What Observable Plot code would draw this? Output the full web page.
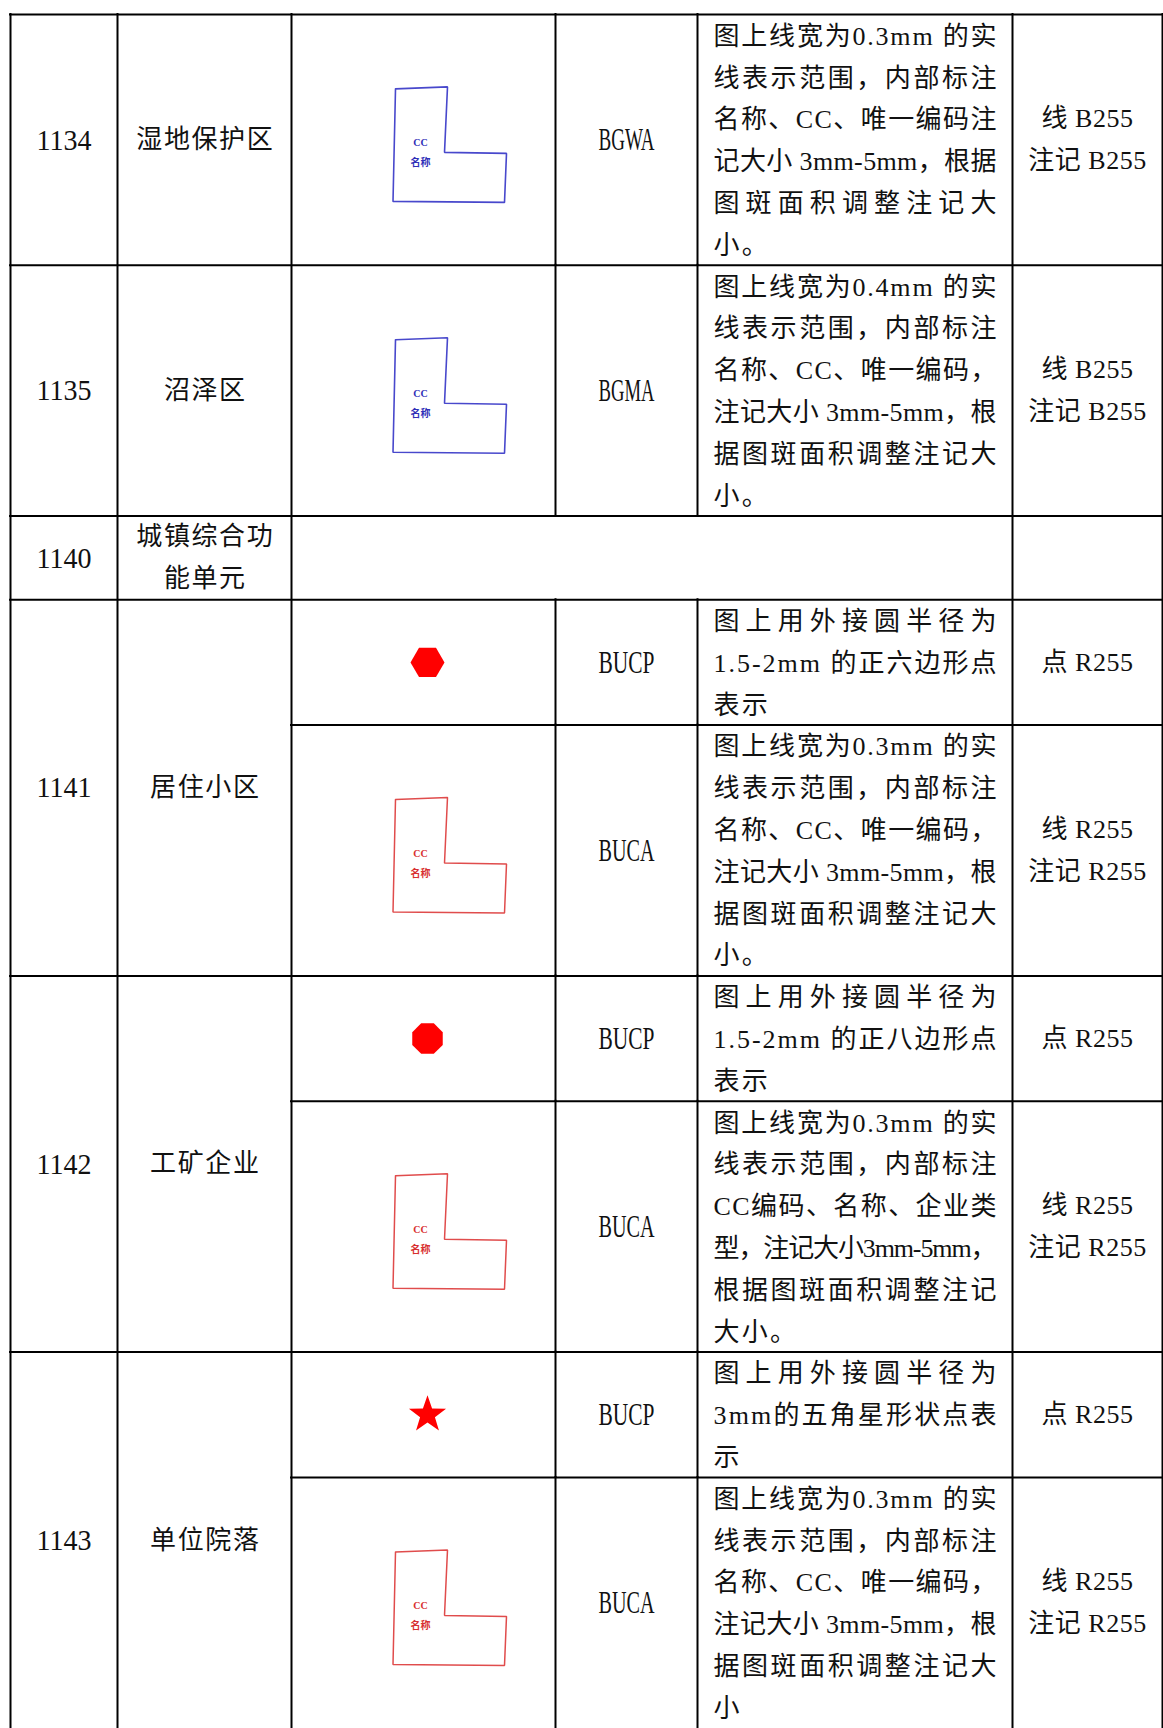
<!DOCTYPE html>
<html>
<head>
<meta charset="utf-8">
<script src="https://cdn.jsdelivr.net/npm/d3@7"></script>
<script src="https://cdn.jsdelivr.net/npm/@observablehq/plot@0.6"></script>
<style>
  body { margin: 0; background: #fff; }
  #chart svg { display: block; }
</style>
</head>
<body>
<div id="chart"></div>
<script>
// ---------------- data ----------------
const rowIds = ["1134", "1135", "1140", "1141", "1142", "1143"];
const rowNames = [["湿地保护区"], ["沼泽区"], ["城镇综合功", "能单元"], ["居住小区"], ["工矿企业"], ["单位院落"]];

// each sub-row belongs to a row (index into rowIds)
const subRowOf = [0, 1, 2, 3, 3, 4, 4, 5, 5];
const subSymbols = ["blueL", "blueL", null, "hexagon", "redL", "octagon", "redL", "star", "redL"];
const subCodes = ["BGWA", "BGMA", null, "BUCP", "BUCA", "BUCP", "BUCA", "BUCP", "BUCA"];
const subDescriptions = [
  ["图上线宽为0.3mm 的实", "线表示范围，内部标注", "名称、CC、唯一编码注", "记大小 3mm-5mm，根据", "图斑面积调整注记大", "小。"],
  ["图上线宽为0.4mm 的实", "线表示范围，内部标注", "名称、CC、唯一编码，", "注记大小 3mm-5mm，根", "据图斑面积调整注记大", "小。"],
  [],
  ["图上用外接圆半径为", "1.5-2mm 的正六边形点", "表示"],
  ["图上线宽为0.3mm 的实", "线表示范围，内部标注", "名称、CC、唯一编码，", "注记大小 3mm-5mm，根", "据图斑面积调整注记大", "小。"],
  ["图上用外接圆半径为", "1.5-2mm 的正八边形点", "表示"],
  ["图上线宽为0.3mm 的实", "线表示范围，内部标注", "CC编码、名称、企业类", "型，注记大小3mm-5mm，", "根据图斑面积调整注记", "大小。"],
  ["图上用外接圆半径为", "3mm的五角星形状点表", "示"],
  ["图上线宽为0.3mm 的实", "线表示范围，内部标注", "名称、CC、唯一编码，", "注记大小 3mm-5mm，根", "据图斑面积调整注记大", "小"]
];
const subColours = [
  ["线 B255", "注记 B255"], ["线 B255", "注记 B255"], [],
  ["点 R255"], ["线 R255", "注记 R255"],
  ["点 R255"], ["线 R255", "注记 R255"],
  ["点 R255"], ["线 R255", "注记 R255"]
];
// outline of the L-shaped area symbol (vertex offsets)
const lOutline = [[0, 0], [52, -2], [49, 63.5], [111, 64.5], [109, 113.5], [-2.5, 112.5], [0, 0]];
const lLabels = ["CC", "名称"];

// ---------------- layout ----------------
const W = 1163, H = 1728;
const TOP = 14, LINE = 41.8;
const COLS = [10, 117, 291, 555, 697, 1012, 1162];
const FONT = "'Liberation Serif', 'Noto Sans CJK SC', serif";
const CJK = "'Noto Sans CJK SC', sans-serif";

const subN = subDescriptions.map((d, i) => d.length || rowNames[subRowOf[i]].length);
const subTop = [];
let acc = TOP;
subN.forEach((n, i) => { subTop.push(acc); acc += n * LINE; });
const subBottom = subTop.map((t, i) => t + subN[i] * LINE);
const subMid = subTop.map((t, i) => (t + subBottom[i]) / 2);
const rowTop = rowIds.map((_, r) => Math.min(...subTop.filter((_, i) => subRowOf[i] === r)));
const rowBottom = rowIds.map((_, r) => Math.max(...subBottom.filter((_, i) => subRowOf[i] === r)));
const rowMid = rowTop.map((t, r) => (t + rowBottom[r]) / 2);

// grid lines
const hLines = [{y: TOP, x1: COLS[0], x2: COLS[6]}];
subTop.forEach((t, i) => {
  if (i === 0) return;
  const newRow = subRowOf[i] !== subRowOf[i - 1];
  hLines.push({y: t, x1: newRow ? COLS[0] : COLS[2], x2: COLS[6]});
});
const vLines = [];
[0, 1, 2, 5, 6].forEach(c => vLines.push({x: COLS[c], y1: TOP, y2: H}));
subCodes.forEach((c, i) => {
  if (c === null) return;
  const y2 = i === subCodes.length - 1 ? H : subBottom[i];
  vLines.push({x: COLS[3], y1: subTop[i], y2});
  vLines.push({x: COLS[4], y1: subTop[i], y2});
});

// texts
const symX = (COLS[2] + COLS[3]) / 2;
const idText = rowIds.map((t, r) => ({text: t, x: (COLS[0] + COLS[1]) / 2, y: rowMid[r]}));
const nameText = [];
rowNames.forEach((lines, r) => lines.forEach((t, j) => nameText.push({text: t, x: (COLS[1] + COLS[2]) / 2, y: rowMid[r] + (j - (lines.length - 1) / 2) * 42})));
const codeText = [];
subCodes.forEach((c, i) => { if (c) codeText.push({text: c, x: (COLS[3] + COLS[4]) / 2, y: subMid[i]}); });
const descFull = [], descLast = [];
subDescriptions.forEach((lines, i) => lines.forEach((t, j) => {
  const d = {text: t, x: COLS[4] + 16, y: subTop[i] + 22 + j * LINE};
  (j === lines.length - 1 ? descLast : descFull).push(d);
}));
const colourText = [];
subColours.forEach((lines, i) => lines.forEach((t, j) => colourText.push({text: t, x: (COLS[5] + COLS[6]) / 2, y: subMid[i] + (j - (lines.length - 1) / 2) * 42})));

// L-shaped outlines
const lPts = {blueL: [], redL: []};
const lTxt = {blueL: [], redL: []};
subSymbols.forEach((s, i) => {
  if (s !== "blueL" && s !== "redL") return;
  const ox = symX - 28, oy = subMid[i] - 51;
  lOutline.forEach(([dx, dy]) => lPts[s].push({id: i, x: ox + dx, y: oy + dy}));
  lLabels.forEach((t, j) => lTxt[s].push({text: t, x: ox + 25, y: oy + 54 + j * 20}));
});

// point symbols
function polySymbol(n, rot) {
  return {draw(ctx, size) {
    const r = Math.sqrt(size / Math.PI);
    for (let k = 0; k < n; k++) {
      const a = rot + k * 2 * Math.PI / n;
      const px = r * Math.cos(a), py = r * Math.sin(a);
      k ? ctx.lineTo(px, py) : ctx.moveTo(px, py);
    }
    ctx.closePath();
  }};
}
const starSymbol = {draw(ctx, size) {
  const R = Math.sqrt(size / Math.PI), r = R * 0.4;
  for (let k = 0; k < 10; k++) {
    const a = -Math.PI / 2 + k * Math.PI / 5;
    const rr = k % 2 ? r : R;
    const px = rr * Math.cos(a), py = rr * Math.sin(a);
    k ? ctx.lineTo(px, py) : ctx.moveTo(px, py);
  }
  ctx.closePath();
}};
const pts = s => subSymbols.map((v, i) => v === s ? {x: symX + 4, y: subMid[i]} : null).filter(d => d);

const svg = Plot.plot({
  width: W,
  height: H,
  margin: 0,
  x: {type: "linear", domain: [0, W], range: [0, W], axis: null},
  y: {type: "linear", domain: [0, H], range: [0, H], axis: null},
  style: {background: "#fff"},
  marks: [
    Plot.ruleY(hLines, {y: "y", x1: "x1", x2: "x2", stroke: "#000", strokeWidth: 2, strokeLinecap: "square"}),
    Plot.ruleX(vLines, {x: "x", y1: "y1", y2: "y2", stroke: "#000", strokeWidth: 2, strokeLinecap: "square"}),
    Plot.line(lPts.blueL, {x: "x", y: "y", z: "id", stroke: "#4848cc", strokeWidth: 1.6, strokeLinejoin: "miter"}),
    Plot.line(lPts.redL, {x: "x", y: "y", z: "id", stroke: "#e04c4c", strokeWidth: 1.5, strokeLinejoin: "miter"}),
    Plot.text(lTxt.blueL, {x: "x", y: "y", text: "text", fill: "#3030b8", fontSize: 10, fontWeight: "bold", fontFamily: FONT}),
    Plot.text(lTxt.redL, {x: "x", y: "y", text: "text", fill: "#d83030", fontSize: 10, fontWeight: "bold", fontFamily: FONT}),
    Plot.dot(pts("hexagon"), {x: "x", y: "y", r: 17, symbol: polySymbol(6, 0), fill: "#ff0000"}),
    Plot.dot(pts("octagon"), {x: "x", y: "y", r: 16.5, symbol: polySymbol(8, Math.PI / 8), fill: "#ff0000"}),
    Plot.dot(pts("star"), {x: "x", y: "y", r: 19.5, symbol: starSymbol, fill: "#ff0000"}),
    Plot.text(idText, {x: "x", y: "y", text: "text", fontSize: 30, fontFamily: FONT, fill: "#111", ariaDescription: "id"}),
    Plot.text(nameText, {x: "x", y: "y", text: "text", fontSize: 26, fontFamily: CJK, fill: "#111", ariaDescription: "name"}),
    Plot.text(codeText, {x: "x", y: "y", text: "text", fontSize: 32, fontFamily: FONT, fill: "#111", ariaDescription: "code"}),
    Plot.text(descFull, {x: "x", y: "y", text: "text", fontSize: 26, fontFamily: FONT, fill: "#111", textAnchor: "start", ariaDescription: "desc-full"}),
    Plot.text(descLast, {x: "x", y: "y", text: "text", fontSize: 26, fontFamily: FONT, fill: "#111", textAnchor: "start", ariaDescription: "desc-last"}),
    Plot.text(colourText, {x: "x", y: "y", text: "text", fontSize: 26, fontFamily: FONT, fill: "#111", ariaDescription: "colour"})
  ]
});

const s = d3.select(svg);
const grp = name => s.selectAll("g").filter(function() { return this.getAttribute("aria-description") === name; }).selectAll("text");
grp("desc-full").attr("textLength", 283).attr("lengthAdjust", "spacing");
grp("desc-last").style("letter-spacing", "2.3px");
grp("code").attr("textLength", 56).attr("lengthAdjust", "spacingAndGlyphs");
grp("id").attr("textLength", 55).attr("lengthAdjust", "spacingAndGlyphs");
grp("name").style("letter-spacing", "1.6px").attr("dx", 0.8);
grp("colour").style("letter-spacing", "0.5px");
document.getElementById("chart").appendChild(svg);
</script>
</body>
</html>
